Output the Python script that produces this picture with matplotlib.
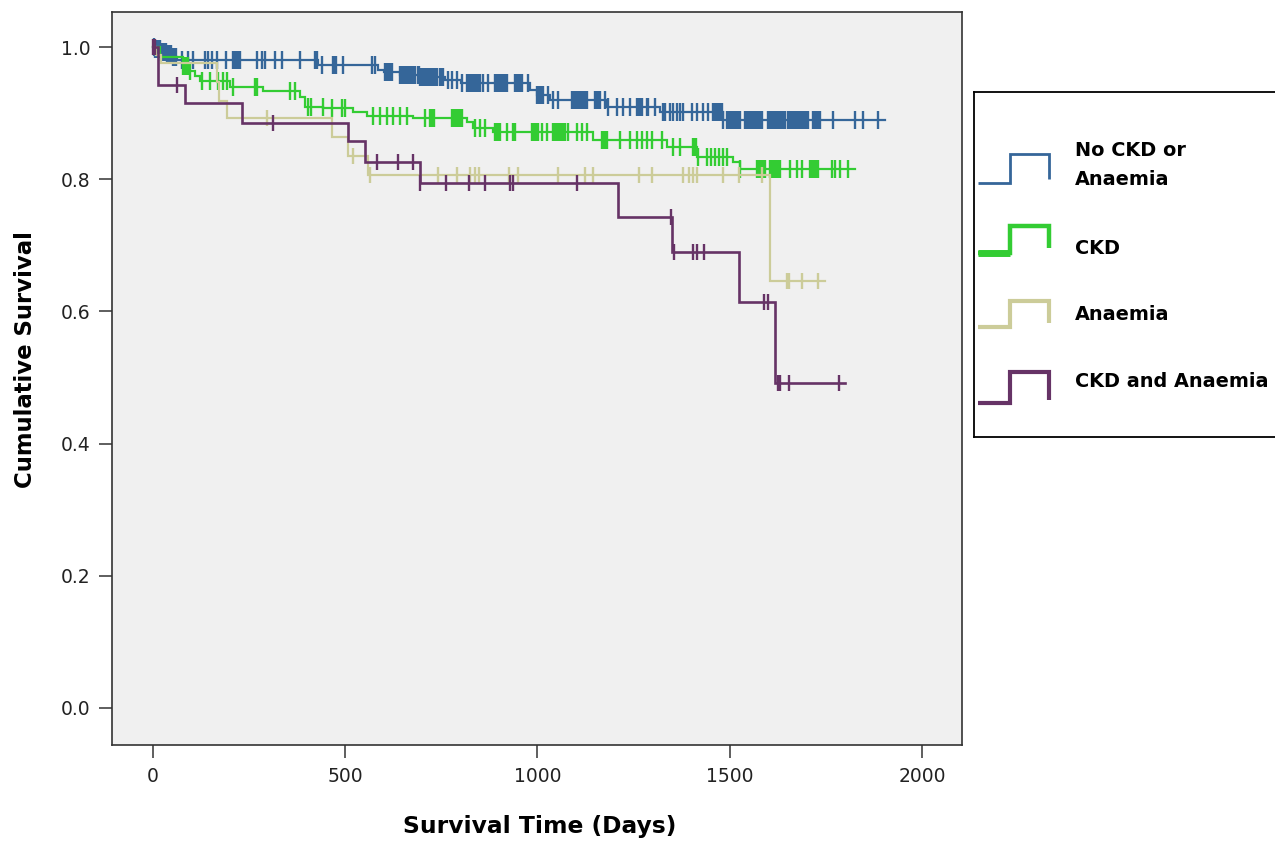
import numpy as np
import matplotlib
matplotlib.use("Agg")
import matplotlib.pyplot as plt
from matplotlib.lines import Line2D

# ---------------- data (days, cumulative survival) ----------------
groups = ["No CKD or\nAnaemia", "CKD", "Anaemia", "CKD and Anaemia"]
colors = ["#356699", "#33CC33", "#CCCC99", "#663366"]

blue_event_t = [5, 20, 35, 50, 62, 430, 585, 600, 642, 695, 760, 800, 980, 998, 1032, 1180, 1318, 1482]
blue_event_s = [0.997, 0.993, 0.989, 0.985, 0.980, 0.973, 0.966, 0.962, 0.958, 0.955, 0.950, 0.945,
                0.935, 0.927, 0.920, 0.910, 0.902, 0.890]
blue_end = 1904
blue_censor = [3, 6, 9, 12, 15, 18, 21, 24, 27, 30, 33, 36, 40, 44, 48, 52, 56, 60, 75, 91, 104, 135, 143,
               153, 166, 190, 208, 211, 214, 217, 220, 223, 226, 270, 283, 291, 317, 335, 382, 421, 424,
               427, 440, 468, 472, 476, 494, 570, 577, 603, 606, 609, 612, 615, 618, 621, 642, 645, 648,
               651, 654, 657, 660, 663, 666, 669, 672, 675, 678, 681, 689, 692, 695, 698, 701, 704, 707,
               710, 713, 716, 719, 722, 725, 728, 731, 734, 737, 739, 746, 750, 754, 767, 778, 791, 804,
               817, 820, 823, 826, 829, 832, 835, 838, 841, 844, 847, 850, 858, 871, 889, 892, 895, 898,
               901, 904, 907, 910, 913, 916, 919, 921, 942, 945, 947, 950, 953, 956, 960, 975, 999, 1002,
               1005, 1008, 1011, 1014, 1027, 1040, 1053, 1090, 1093, 1096, 1099, 1102, 1105, 1108, 1111,
               1114, 1117, 1120, 1123, 1126, 1129, 1150, 1153, 1156, 1159, 1163, 1176, 1184, 1207, 1222,
               1241, 1259, 1262, 1265, 1268, 1272, 1285, 1288, 1306, 1326, 1329, 1332, 1345, 1352, 1363,
               1371, 1378, 1402, 1415, 1431, 1444, 1456, 1459, 1462, 1465, 1468, 1471, 1474, 1477, 1480,
               1482, 1493, 1496, 1499, 1502, 1505, 1508, 1511, 1514, 1517, 1520, 1523, 1527, 1540, 1543,
               1546, 1549, 1552, 1555, 1558, 1561, 1564, 1567, 1570, 1573, 1576, 1579, 1582, 1584, 1600,
               1603, 1606, 1609, 1612, 1615, 1618, 1621, 1624, 1627, 1630, 1633, 1636, 1639, 1642, 1644,
               1652, 1655, 1658, 1661, 1664, 1667, 1670, 1673, 1676, 1679, 1682, 1685, 1688, 1691, 1694,
               1697, 1700, 1703, 1716, 1719, 1722, 1725, 1728, 1731, 1735, 1768, 1826, 1847, 1886]

green_event_t = [18, 78, 91, 109, 122, 200, 286, 382, 395, 443, 521, 557, 676, 816, 832, 884, 1144, 1336,
                 1415, 1508, 1526]
green_event_s = [0.985, 0.972, 0.963, 0.956, 0.948, 0.940, 0.933, 0.925, 0.910, 0.908, 0.902, 0.896,
                 0.893, 0.886, 0.878, 0.872, 0.859, 0.849, 0.834, 0.826, 0.815]
green_end = 1826
green_censor = [78, 82, 86, 90, 95, 127, 148, 169, 182, 192, 208, 265, 268, 271, 356, 369, 403, 411, 442,
                466, 492, 499, 572, 590, 609, 624, 642, 661, 707, 720, 724, 728, 732, 778, 781, 784, 787,
                790, 793, 796, 799, 802, 804, 837, 850, 863, 889, 893, 897, 902, 920, 936, 941, 986, 989,
                992, 995, 998, 1001, 1012, 1025, 1040, 1043, 1046, 1049, 1052, 1055, 1058, 1062, 1066,
                1071, 1079, 1103, 1116, 1129, 1168, 1171, 1174, 1177, 1181, 1215, 1241, 1259, 1272, 1285,
                1298, 1324, 1352, 1371, 1404, 1407, 1410, 1413, 1417, 1441, 1451, 1462, 1472, 1483, 1493,
                1527, 1571, 1574, 1577, 1580, 1583, 1586, 1589, 1592, 1605, 1608, 1611, 1614, 1617, 1620,
                1623, 1626, 1631, 1657, 1675, 1688, 1709, 1712, 1715, 1718, 1721, 1724, 1727, 1730, 1766,
                1774, 1787, 1808]

beige_event_t = [8, 20, 166, 172, 192, 466, 507, 559, 1605]
beige_event_s = [0.988, 0.976, 0.947, 0.918, 0.892, 0.864, 0.835, 0.807, 0.646]
beige_end = 1748
beige_censor = [296, 520, 564, 741, 790, 824, 837, 848, 926, 949, 1053, 1124, 1144, 1264, 1298, 1378,
                1394, 1404, 1415, 1482, 1524, 1584, 1650, 1655, 1688, 1730]

purple_event_t = [13, 83, 231, 507, 551, 694, 1209, 1350, 1524, 1618]
purple_event_s = [0.943, 0.915, 0.885, 0.858, 0.826, 0.794, 0.743, 0.690, 0.614, 0.492]
purple_end = 1800
purple_censor = [5, 62, 312, 583, 637, 676, 694, 762, 822, 863, 928, 936, 1103, 1347, 1355, 1405, 1415,
                 1433, 1589, 1600, 1625, 1631, 1654, 1784]

x_ticks = [0, 500, 1000, 1500, 2000]
y_ticks = [0.0, 0.2, 0.4, 0.6, 0.8, 1.0]
x_label = "Survival Time (Days)"
y_label = "Cumulative Survival"

series = [
    (blue_event_t, blue_event_s, blue_end, blue_censor),
    (green_event_t, green_event_s, green_end, green_censor),
    (beige_event_t, beige_event_s, beige_end, beige_censor),
    (purple_event_t, purple_event_s, purple_end, purple_censor),
]

# ---------------- figure ----------------
W, H = 1275, 844
fig = plt.figure(figsize=(W / 100, H / 100), dpi=100)
fig.patch.set_facecolor("white")

ax_l, ax_r, ax_t, ax_b = 112, 962, 12, 745
ax = fig.add_axes([ax_l / W, (H - ax_b) / H, (ax_r - ax_l) / W, (ax_b - ax_t) / H])
ax.set_facecolor("#F0F0F0")

line_widths = [1.6, 1.6, 1.6, 1.9]
msizes = [13.5, 13.5, 11.0, 11.0]
for (et, es, end, cen), col, lw, ms in zip(series, colors, line_widths, msizes):
    t = np.concatenate([[0], et, [end]])
    s = np.concatenate([[1.0], es, [es[-1]]])
    ax.step(t, s, where="post", color=col, lw=lw, solid_joinstyle="miter", zorder=3)
    cen = np.asarray(cen, dtype=float)
    idx = np.searchsorted(np.asarray(et, dtype=float), cen, side="right")
    s_all = np.concatenate([[1.0], es])
    ax.plot(cen, s_all[idx], linestyle="none", marker="|", ms=ms, mew=1.7, color=col, zorder=3)
ax.plot([0], [1.0], linestyle="none", marker="|", ms=11, mew=1.7, color=colors[3], zorder=4)

ax.set_xlim(-106.6, 2104)
ax.set_ylim(-0.056, 1.053)
ax.set_xticks(x_ticks)
ax.set_yticks(y_ticks)
ax.set_yticklabels([f"{v:.1f}" for v in y_ticks])
ax.tick_params(direction="out", length=9.5, width=1.1, color="#333333",
               labelsize=13.5, labelcolor="#222222", pad=6)
for sp in ax.spines.values():
    sp.set_color("#333333")
    sp.set_linewidth(1.2)

fig.text(539.5 / W, 1 - 826 / H, x_label, ha="center", va="center",
         fontsize=16.8, fontweight="bold", color="black")
fig.text(26 / W, 1 - 360 / H, y_label, ha="center", va="center", rotation=90,
         fontsize=16.4, fontweight="bold", color="black")

# ---------------- legend box ----------------
lg_l, lg_t, lg_b = 974, 91.7, 437
lg_w = 400
lax = fig.add_axes([lg_l / W, (H - lg_b) / H, lg_w / W, (lg_b - lg_t) / H])
lax.set_xlim(lg_l, lg_l + lg_w)
lax.set_ylim(lg_b, lg_t)
lax.set_xticks([])
lax.set_yticks([])
lax.set_facecolor("white")
for sp in lax.spines.values():
    sp.set_color("black")
    sp.set_linewidth(1.3)

icon_low = [183, 253, 326.7, 403]
icon_high = [154, 226, 301, 371.7]
icon_end = [179, 248, 323, 400]
icon_lw = [2.0, 3.2, 3.0, 3.0]
text_y = [165, 248, 315, 382]
for lab, col, lo, hi, en, lw, ty in zip(groups, colors, icon_low, icon_high, icon_end, icon_lw, text_y):
    lax.add_line(Line2D([978, 1010, 1010, 1049, 1049], [lo, lo, hi, hi, en], color=col, lw=lw,
                        solid_joinstyle="miter", solid_capstyle="butt"))
    lax.text(1075, ty, lab, ha="left", va="center", fontsize=13.9, fontweight="bold",
             color="black", linespacing=1.7)
lax.add_line(Line2D([978, 1010], [icon_low[1], icon_low[1]], color=colors[1], lw=5.0,
                    solid_capstyle="butt"))

fig.savefig("out.png", dpi=100, facecolor="white")
